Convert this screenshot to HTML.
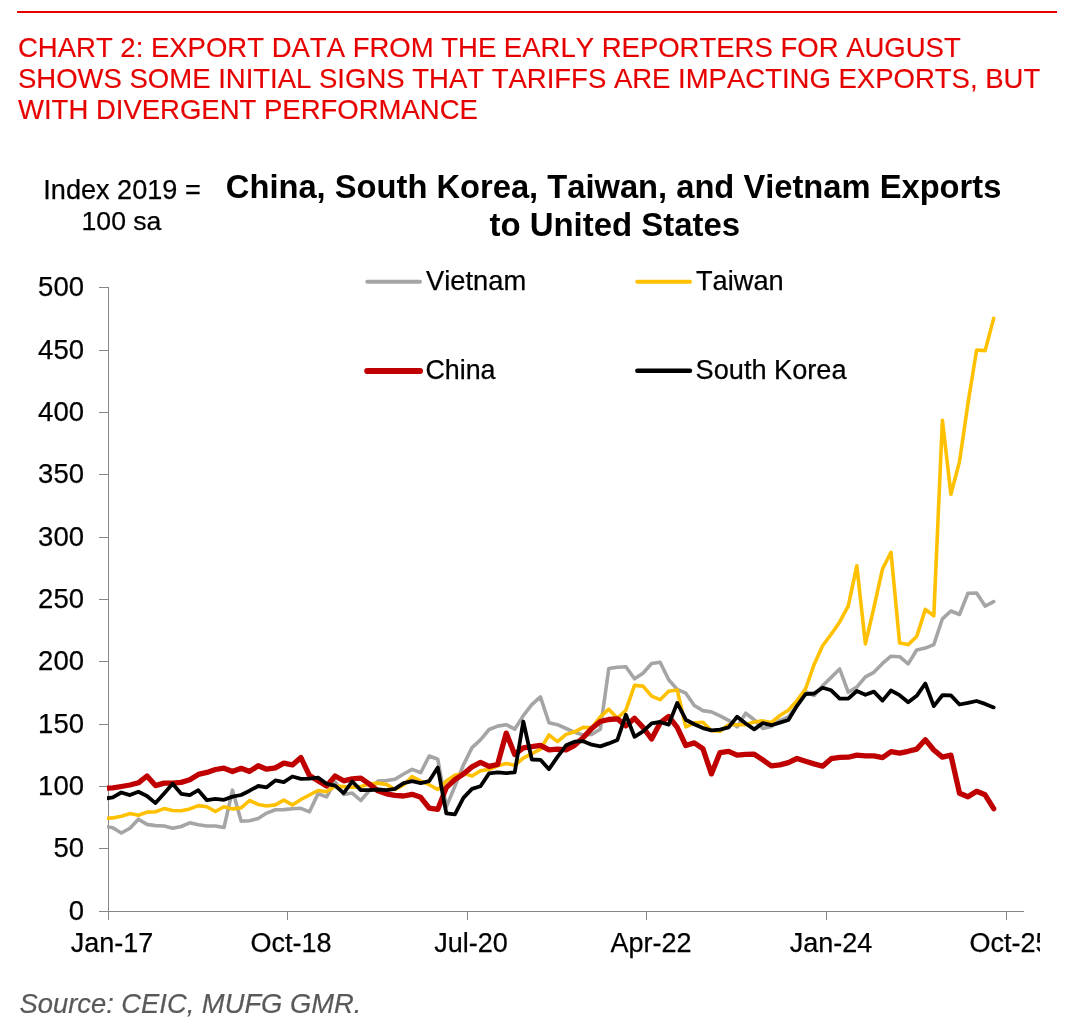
<!DOCTYPE html>
<html><head><meta charset="utf-8"><title>Chart 2</title>
<style>
html,body{margin:0;padding:0;background:#fff;}
body{width:1085px;height:1035px;position:relative;overflow:hidden;font-family:"Liberation Sans",sans-serif;color:#000;font-kerning:none;-webkit-text-stroke:0.25px #000;}
#rule{position:absolute;left:17px;top:11px;width:1040px;height:2px;background:#e60000;}
#head{position:absolute;left:18px;top:31.6px;width:1060px;font-size:27.5px;line-height:31.3px;color:#e60000;white-space:nowrap;-webkit-text-stroke:0.15px #e60000;}
#unit{position:absolute;left:22px;top:173.7px;width:200px;text-align:center;font-size:27.1px;line-height:32.2px;white-space:nowrap;}
#title{position:absolute;left:213.6px;top:167.8px;width:800px;text-align:center;font-weight:bold;font-size:32.7px;-webkit-text-stroke:0;line-height:37px;white-space:nowrap;}
#title2{position:absolute;left:214.8px;top:205.8px;width:800px;text-align:center;font-weight:bold;font-size:32.95px;-webkit-text-stroke:0;line-height:37px;white-space:nowrap;}
.yl{position:absolute;left:0;width:84px;text-align:right;font-size:27.5px;line-height:31px;height:31px;}
#xwrap{position:absolute;left:0;top:0;width:1040.2px;height:1035px;overflow:hidden;}
.xl{position:absolute;top:927.9px;width:120px;text-align:center;font-size:27px;line-height:31px;white-space:nowrap;}
.lg{position:absolute;font-size:27.5px;line-height:31px;white-space:nowrap;}
#src{position:absolute;left:19.5px;top:987.5px;font-size:27.35px;line-height:31px;font-style:italic;color:#595959;white-space:nowrap;-webkit-text-stroke:0.2px #595959;}
svg{position:absolute;left:0;top:0;}
</style></head><body>
<div id="rule"></div>
<div id="head">CHART 2: EXPORT DATA FROM THE EARLY REPORTERS FOR AUGUST<br>SHOWS SOME INITIAL SIGNS THAT TARIFFS ARE IMPACTING EXPORTS, BUT<br>WITH DIVERGENT PERFORMANCE</div>
<div id="unit">Index 2019 =<br><span style="font-size:26.6px;position:relative;top:-1.2px;left:-0.5px">100 sa</span></div>
<div id="title">China, South Korea, Taiwan, and Vietnam Exports</div>
<div id="title2">to United States</div>
<div class="yl" style="top:894.80px">0</div><div class="yl" style="top:831.80px">50</div><div class="yl" style="top:769.80px">100</div><div class="yl" style="top:707.80px">150</div><div class="yl" style="top:644.80px">200</div><div class="yl" style="top:582.80px">250</div><div class="yl" style="top:520.80px">300</div><div class="yl" style="top:457.80px">350</div><div class="yl" style="top:395.80px">400</div><div class="yl" style="top:333.80px">450</div><div class="yl" style="top:270.80px">500</div>
<div id="xwrap"><div class="xl" style="left:52.0px">Jan-17</div><div class="xl" style="left:231.0px">Oct-18</div><div class="xl" style="left:411.0px">Jul-20</div><div class="xl" style="left:591.0px">Apr-22</div><div class="xl" style="left:771.0px">Jan-24</div><div class="xl" style="left:950.0px">Oct-25</div></div>
<svg width="1085" height="1035" viewBox="0 0 1085 1035">
<defs><clipPath id="cp"><rect x="107" y="280" width="930" height="640"/></clipPath></defs>
<path d="M108.5 287V912M99 911.5H1024M99 848.5H108M99 786.5H108M99 724.5H108M99 661.5H108M99 599.5H108M99 537.5H108M99 474.5H108M99 412.5H108M99 350.5H108M99 287.5H108M108.5 912V920M287.5 912V920M467.5 912V920M646.5 912V920M826.5 912V920M1006.5 912V920" stroke="#868686" stroke-width="1" fill="none" shape-rendering="crispEdges"/>
<g clip-path="url(#cp)">
<polyline points="104.2,826.2 112.8,827.8 121.3,833.0 129.9,828.2 138.4,819.2 147.0,824.4 155.5,825.6 164.1,826.0 172.6,828.2 181.2,826.5 189.8,822.8 198.3,824.7 206.9,826.0 215.4,826.0 224.0,827.6 232.5,790.2 241.1,821.1 249.6,820.8 258.2,818.6 266.7,813.1 275.3,809.8 283.8,809.6 292.4,808.8 300.9,808.3 309.5,811.8 318.0,793.7 326.6,796.9 335.1,781.7 343.7,794.6 352.2,793.1 360.8,800.5 369.4,790.6 377.9,781.1 386.5,780.5 395.0,779.2 403.6,774.0 412.1,769.3 420.7,772.7 429.2,756.0 437.8,759.2 446.3,806.9 454.9,786.3 463.4,765.0 472.0,747.6 480.5,739.8 489.1,729.5 497.6,726.1 506.2,724.7 514.7,729.2 523.3,715.6 531.8,704.7 540.4,696.9 549.0,722.7 557.5,724.7 566.1,728.5 574.6,732.4 583.2,735.0 591.7,734.4 600.3,729.2 608.8,668.5 617.4,667.3 625.9,666.7 634.5,678.8 643.0,673.2 651.6,663.5 660.1,662.3 668.7,679.7 677.2,689.4 685.8,693.2 694.3,705.5 702.9,710.6 711.4,711.9 720.0,715.8 728.6,720.3 737.1,726.8 745.7,713.2 754.2,719.7 762.8,728.5 771.3,726.5 779.9,720.6 788.4,716.8 797.0,705.8 805.5,691.6 814.1,695.5 822.6,685.8 831.2,677.4 839.7,669.0 848.3,692.3 856.8,687.1 865.4,676.8 873.9,672.3 882.5,663.4 891.0,656.2 899.6,656.7 908.2,663.9 916.7,650.0 925.3,648.1 933.8,644.6 942.4,618.8 950.9,611.0 959.5,614.5 968.0,593.2 976.6,593.0 985.1,606.1 993.7,601.6" fill="none" stroke="#a5a5a5" stroke-width="3.6" stroke-linejoin="round" stroke-linecap="round"/>
<polyline points="104.2,818.4 112.8,817.9 121.3,816.2 129.9,813.6 138.4,815.3 147.0,812.1 155.5,811.8 164.1,808.6 172.6,810.5 181.2,810.8 189.8,808.9 198.3,805.6 206.9,806.7 215.4,811.5 224.0,806.7 232.5,808.9 241.1,807.9 249.6,800.5 258.2,804.4 266.7,806.0 275.3,804.9 283.8,800.2 292.4,804.9 300.9,799.5 309.5,795.0 318.0,790.5 326.6,791.8 335.1,786.0 343.7,786.6 352.2,787.3 360.8,786.6 369.4,784.0 377.9,783.1 386.5,784.4 395.0,789.5 403.6,785.0 412.1,776.6 420.7,781.1 429.2,784.7 437.8,789.5 446.3,781.1 454.9,775.3 463.4,773.4 472.0,776.0 480.5,770.8 489.1,769.5 497.6,765.8 506.2,763.4 514.7,765.3 523.3,758.2 531.8,753.7 540.4,749.2 549.0,735.0 557.5,741.7 566.1,734.4 574.6,731.8 583.2,727.3 591.7,727.9 600.3,716.9 608.8,709.2 617.4,718.2 625.9,710.2 634.5,685.4 643.0,686.1 651.6,696.2 660.1,699.7 668.7,691.3 677.2,690.0 685.8,726.8 694.3,722.9 702.9,722.3 711.4,730.6 720.0,731.3 728.6,724.8 737.1,724.8 745.7,724.8 754.2,722.0 762.8,720.9 771.3,722.6 779.9,715.5 788.4,710.3 797.0,700.6 805.5,689.0 814.1,664.5 822.6,645.8 831.2,634.2 839.7,621.9 848.3,605.8 856.8,565.8 865.4,643.9 873.9,607.7 882.5,569.0 891.0,552.3 899.6,642.9 908.2,644.6 916.7,636.5 925.3,609.4 933.8,615.8 942.4,420.3 950.9,494.2 959.5,461.6 968.0,403.2 976.6,350.0 985.1,350.6 993.7,318.4" fill="none" stroke="#ffc000" stroke-width="3.6" stroke-linejoin="round" stroke-linecap="round"/>
<polyline points="104.2,788.2 112.8,787.8 121.3,786.5 129.9,785.0 138.4,782.8 147.0,776.0 155.5,785.6 164.1,783.1 172.6,783.1 181.2,782.4 189.8,779.8 198.3,774.4 206.9,772.4 215.4,769.5 224.0,768.2 232.5,771.5 241.1,768.3 249.6,771.4 258.2,765.7 266.7,769.2 275.3,767.9 283.8,763.1 292.4,764.9 300.9,757.6 309.5,775.6 318.0,780.8 326.6,786.0 335.1,776.0 343.7,780.8 352.2,778.9 360.8,778.2 369.4,784.2 377.9,790.8 386.5,793.8 395.0,795.3 403.6,796.0 412.1,794.3 420.7,797.3 429.2,808.2 437.8,809.3 446.3,787.6 454.9,779.6 463.4,774.0 472.0,766.9 480.5,762.4 489.1,766.3 497.6,764.5 506.2,733.1 514.7,754.4 523.3,747.9 531.8,746.6 540.4,745.3 549.0,749.8 557.5,749.2 566.1,749.8 574.6,745.3 583.2,737.6 591.7,728.5 600.3,721.5 608.8,719.5 617.4,718.9 625.9,725.9 634.5,718.2 643.0,727.4 651.6,739.0 660.1,722.9 668.7,716.5 677.2,727.4 685.8,745.5 694.3,742.9 702.9,748.7 711.4,773.9 720.0,752.6 728.6,751.3 737.1,755.2 745.7,754.3 754.2,754.2 762.8,759.8 771.3,765.8 779.9,764.9 788.4,762.6 797.0,758.5 805.5,761.3 814.1,763.9 822.6,766.2 831.2,758.7 839.7,757.4 848.3,757.2 856.8,755.1 865.4,755.9 873.9,755.9 882.5,757.6 891.0,751.6 899.6,753.2 908.2,751.3 916.7,749.1 925.3,739.7 933.8,750.0 942.4,757.1 950.9,755.2 959.5,793.2 968.0,796.8 976.6,791.3 985.1,794.8 993.7,808.7" fill="none" stroke="#c00000" stroke-width="5.3" stroke-linejoin="round" stroke-linecap="round"/>
<polyline points="104.2,798.7 112.8,797.3 121.3,792.5 129.9,795.1 138.4,791.7 147.0,796.0 155.5,803.1 164.1,793.4 172.6,783.7 181.2,793.8 189.8,795.1 198.3,790.2 206.9,800.2 215.4,798.9 224.0,799.8 232.5,796.6 241.1,795.0 249.6,790.7 258.2,786.0 266.7,787.3 275.3,780.4 283.8,782.1 292.4,776.5 300.9,778.9 309.5,778.6 318.0,777.6 326.6,783.8 335.1,785.6 343.7,793.1 352.2,781.5 360.8,790.2 369.4,790.2 377.9,789.5 386.5,790.2 395.0,788.9 403.6,783.1 412.1,781.1 420.7,783.1 429.2,781.1 437.8,767.6 446.3,813.4 454.9,814.4 463.4,797.9 472.0,788.9 480.5,786.3 489.1,773.4 497.6,772.4 506.2,773.1 514.7,772.4 523.3,721.5 531.8,759.5 540.4,759.8 549.0,769.2 557.5,756.9 566.1,745.3 574.6,741.7 583.2,741.2 591.7,744.7 600.3,746.4 608.8,743.4 617.4,739.9 625.9,714.8 634.5,736.8 643.0,731.3 651.6,723.3 660.1,722.0 668.7,724.6 677.2,702.9 685.8,719.7 694.3,724.2 702.9,728.1 711.4,730.3 720.0,729.7 728.6,727.4 737.1,716.8 745.7,723.5 754.2,729.4 762.8,723.1 771.3,725.2 779.9,722.6 788.4,720.0 797.0,705.8 805.5,694.2 814.1,693.5 822.6,687.7 831.2,690.3 839.7,698.7 848.3,698.7 856.8,691.0 865.4,694.8 873.9,691.6 882.5,700.6 891.0,690.5 899.6,695.2 908.2,702.3 916.7,695.8 925.3,683.5 933.8,706.1 942.4,695.2 950.9,695.4 959.5,704.5 968.0,702.9 976.6,701.0 985.1,703.9 993.7,707.4" fill="none" stroke="#000000" stroke-width="3.8" stroke-linejoin="round" stroke-linecap="round"/>
</g>
<path d="M367.3 281.8H420" stroke="#a5a5a5" stroke-width="4" stroke-linecap="round" fill="none"/>
<path d="M637.3 281.8H690" stroke="#ffc000" stroke-width="4" stroke-linecap="round" fill="none"/>
<path d="M367.2 371H420" stroke="#c00000" stroke-width="6" stroke-linecap="round" fill="none"/>
<path d="M637.3 370.7H690" stroke="#000" stroke-width="4.4" stroke-linecap="round" fill="none"/>
</svg>
<div class="lg" style="left:426px;top:264.7px;font-size:27.3px">Vietnam</div>
<div class="lg" style="left:696px;top:264.7px;font-size:27.2px">Taiwan</div>
<div class="lg" style="left:425.4px;top:354.5px;font-size:26.85px">China</div>
<div class="lg" style="left:695.6px;top:354.2px;font-size:27.15px">South Korea</div>
<div id="src">Source: CEIC, MUFG GMR.</div>
</body></html>
